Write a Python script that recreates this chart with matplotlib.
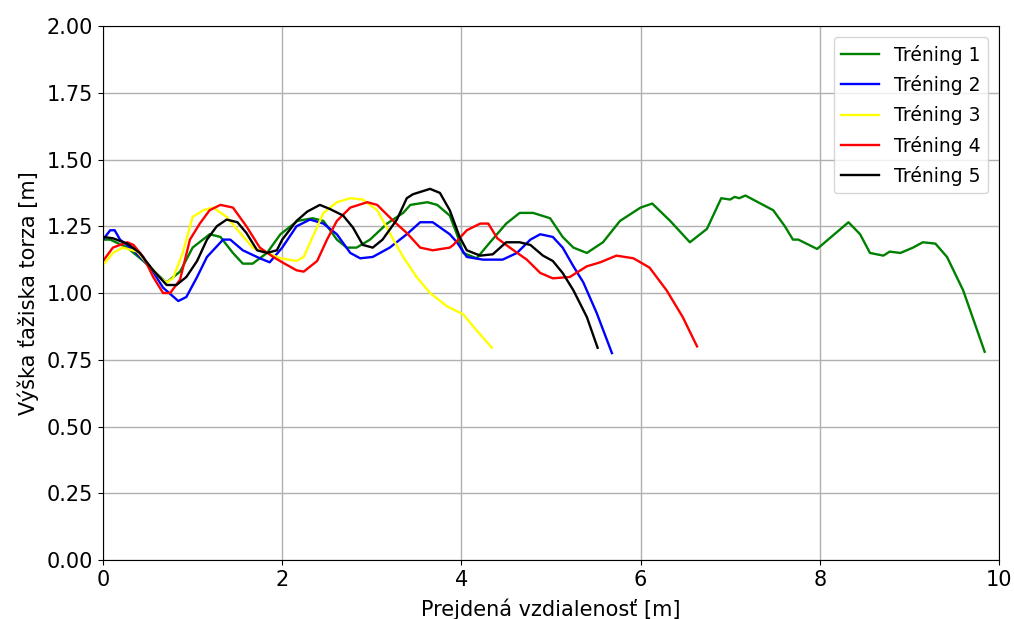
import matplotlib
matplotlib.use("Agg")
import matplotlib.pyplot as plt

# -- Data --------------------------------------------------------------------
x1 = [0.0, 0.08, 0.27, 0.45, 0.67, 0.71, 0.86, 1.0, 1.19, 1.31, 1.45, 1.56, 1.67,
      1.83, 1.98, 2.17, 2.34, 2.46, 2.61, 2.72, 2.83, 2.98, 3.17, 3.35, 3.43,
      3.62, 3.73, 3.87, 3.95, 4.02, 4.17, 4.32, 4.5, 4.65, 4.8, 4.99, 5.13,
      5.25, 5.4, 5.58, 5.77, 6.0, 6.13, 6.33, 6.55, 6.74, 6.9, 7.0, 7.05, 7.1,
      7.17, 7.48, 7.61, 7.7, 7.76, 7.97, 8.11, 8.32, 8.45, 8.56, 8.71, 8.78,
      8.9, 9.04, 9.15, 9.29, 9.42, 9.6, 9.84]
y1 = [1.2, 1.2, 1.17, 1.12, 1.05, 1.04, 1.08, 1.17, 1.22, 1.21, 1.15, 1.11, 1.11,
      1.15, 1.22, 1.27, 1.28, 1.27, 1.2, 1.17, 1.17, 1.2, 1.26, 1.30, 1.33,
      1.34, 1.33, 1.29, 1.22, 1.15, 1.13, 1.19, 1.26, 1.30, 1.30, 1.28, 1.21,
      1.17, 1.15, 1.19, 1.27, 1.32, 1.335, 1.27, 1.19, 1.24, 1.355, 1.35, 1.36,
      1.355, 1.365, 1.31, 1.25, 1.20, 1.20, 1.165, 1.205, 1.265, 1.22, 1.15,
      1.14, 1.155, 1.15, 1.17, 1.19, 1.185, 1.135, 1.01, 0.78]

x2 = [0.0, 0.08, 0.13, 0.19, 0.34, 0.52, 0.67, 0.84, 0.93, 1.05, 1.16, 1.34,
      1.42, 1.56, 1.75, 1.86, 2.0, 2.16, 2.31, 2.46, 2.61, 2.76, 2.87, 3.01,
      3.2, 3.39, 3.54, 3.68, 3.87, 3.95, 4.06, 4.24, 4.46, 4.62, 4.77, 4.88,
      5.02, 5.13, 5.25, 5.36, 5.51, 5.68]
y2 = [1.2, 1.235, 1.235, 1.2, 1.16, 1.1, 1.02, 0.97, 0.985, 1.06, 1.135, 1.2,
      1.2, 1.16, 1.13, 1.115, 1.17, 1.25, 1.275, 1.26, 1.22, 1.15, 1.13, 1.135,
      1.17, 1.22, 1.265, 1.265, 1.22, 1.19, 1.135, 1.125, 1.125, 1.15, 1.2,
      1.22, 1.21, 1.17, 1.10, 1.04, 0.925, 0.775]

x3 = [0.0, 0.11, 0.22, 0.38, 0.52, 0.64, 0.71, 0.78, 0.89, 1.0, 1.12, 1.23,
      1.38, 1.53, 1.67, 1.83, 1.98, 2.16, 2.24, 2.34, 2.46, 2.61, 2.76, 2.9,
      3.06, 3.2, 3.35, 3.5, 3.65, 3.84, 4.02, 4.17, 4.34]
y3 = [1.105, 1.15, 1.17, 1.155, 1.1, 1.055, 1.04, 1.055, 1.15, 1.285, 1.31,
      1.32, 1.285, 1.225, 1.17, 1.15, 1.13, 1.12, 1.135, 1.21, 1.30, 1.34,
      1.355, 1.35, 1.31, 1.225, 1.135, 1.06, 1.0, 0.95, 0.92, 0.86, 0.795]

x4 = [0.0, 0.11, 0.27, 0.34, 0.45, 0.56, 0.67, 0.75, 0.86, 0.97, 1.08, 1.19,
      1.31, 1.45, 1.6, 1.75, 1.9, 2.0, 2.16, 2.24, 2.39, 2.5, 2.61, 2.76, 2.95,
      3.06, 3.24, 3.39, 3.54, 3.68, 3.87, 3.91, 4.06, 4.21, 4.3, 4.4, 4.54,
      4.73, 4.88, 5.02, 5.21, 5.4, 5.55, 5.73, 5.92, 6.1, 6.29, 6.47, 6.63]
y4 = [1.12, 1.17, 1.19, 1.18, 1.135, 1.06, 1.0, 1.0, 1.05, 1.2, 1.26, 1.31,
      1.33, 1.32, 1.25, 1.17, 1.135, 1.115, 1.085, 1.08, 1.12, 1.2, 1.27, 1.32,
      1.34, 1.33, 1.27, 1.225, 1.17, 1.16, 1.17, 1.18, 1.235, 1.26, 1.26,
      1.205, 1.17, 1.125, 1.075, 1.055, 1.06, 1.10, 1.115, 1.14, 1.13, 1.095,
      1.01, 0.91, 0.80]

x5 = [0.0, 0.11, 0.27, 0.41, 0.56, 0.71, 0.82, 0.93, 1.05, 1.16, 1.27, 1.38,
      1.5, 1.6, 1.72, 1.83, 1.94, 2.0, 2.16, 2.28, 2.42, 2.53, 2.68, 2.79, 2.9,
      3.01, 3.12, 3.28, 3.39, 3.46, 3.65, 3.76, 3.87, 3.98, 4.06, 4.21, 4.35,
      4.5, 4.65, 4.77, 4.91, 5.02, 5.13, 5.25, 5.4, 5.52]
y5 = [1.21, 1.205, 1.185, 1.15, 1.085, 1.03, 1.03, 1.06, 1.12, 1.2, 1.25,
      1.275, 1.265, 1.225, 1.16, 1.15, 1.16, 1.2, 1.27, 1.305, 1.33, 1.315,
      1.29, 1.245, 1.18, 1.17, 1.2, 1.275, 1.355, 1.37, 1.39, 1.375, 1.31,
      1.21, 1.16, 1.14, 1.145, 1.19, 1.19, 1.18, 1.14, 1.12, 1.075, 1.01, 0.91,
      0.795]

series = [(x1, y1, "green", "Tréning 1"),
          (x2, y2, "blue", "Tréning 2"),
          (x3, y3, "yellow", "Tréning 3"),
          (x4, y4, "red", "Tréning 4"),
          (x5, y5, "black", "Tréning 5")]

# -- Figure ------------------------------------------------------------------
fig = plt.figure(figsize=(10.14, 6.19), dpi=100)
ax = fig.add_axes([0.1016, 0.0953, 0.8836, 0.8627])

for xs, ys, color, label in series:
    ax.plot(xs, ys, color=color, lw=1.7, label=label)

ax.set_xlim(0, 10)
ax.set_ylim(0, 2)
ax.set_yticks([0, 0.25, 0.5, 0.75, 1.0, 1.25, 1.5, 1.75, 2.0])
ax.tick_params(labelsize=15)
ax.grid(True, color="#b0b0b0", lw=1.0)
ax.set_xlabel("Prejdená vzdialenosť [m]", fontsize=15, labelpad=6)
ax.set_ylabel("Výška ťažiska torza [m]", fontsize=15, labelpad=6)
ax.legend(loc="upper right", fontsize=13.5, labelspacing=0.55,
          borderaxespad=0.6)

fig.savefig("out.png", dpi=100)
